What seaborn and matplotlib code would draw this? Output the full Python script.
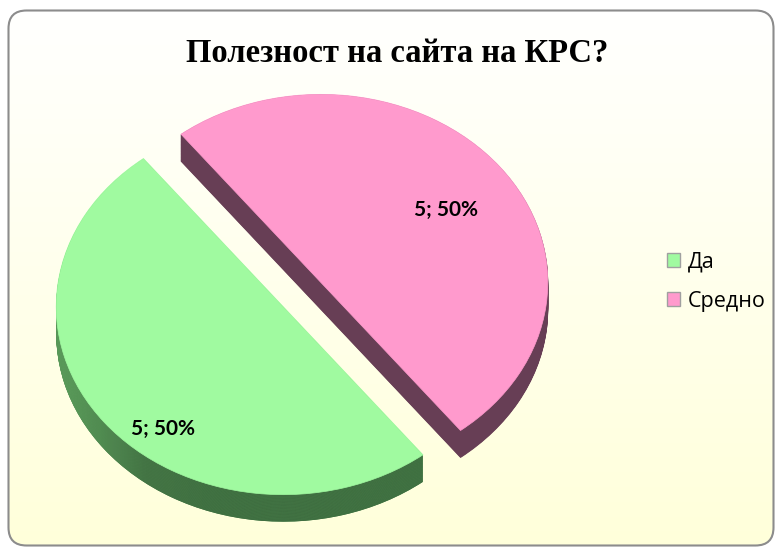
import numpy as np
import matplotlib
matplotlib.use("Agg")
import matplotlib.pyplot as plt
import seaborn as sns
from matplotlib.patches import FancyBboxPatch, Rectangle
from matplotlib.colors import LinearSegmentedColormap

# ---- data ----
categories = ["Да", "Средно"]
values = [5, 5]
top_colors = ["#A0FAA0", "#FF9ACD"]
side_colors = ["#4E8C4E", "#673E55"]
title = "Полезност на сайта на КРС?"

sns.set_theme(style="white")
plt.rcParams['font.family'] = ['Open Sans', 'DejaVu Sans']

W, H = 775, 547
fig = plt.figure(figsize=(W / 100, H / 100), dpi=100)
fig.patch.set_facecolor("white")

# ---- background with rounded frame ----
bg = fig.add_axes([0, 0, 1, 1])
bg.set_axis_off()
bg.set_xlim(0, W)
bg.set_ylim(H, 0)
frame = FancyBboxPatch((8.5, 10.5), 765, 535, boxstyle="round,pad=0,rounding_size=18",
                       facecolor="none", edgecolor="#8C8C8C", linewidth=1.5, zorder=3)
bg.add_patch(frame)
grad = np.linspace(0, 1, 256)[:, None]
cmap = LinearSegmentedColormap.from_list("bg", ["#FFFFFF", "#FFFFDA"])
im = bg.imshow(grad, extent=(0, W, H, 0), cmap=cmap, aspect="auto", zorder=1)
im.set_clip_path(frame)

# ---- 3D-looking pie ----
ax = fig.add_axes([0, 0, 1, 1])
ax.patch.set_alpha(0)
cx, cy, a, b = 302, 294.5, 227, 188
depth = 27 / b
start = 128
explode = [0.105, 0.105]
xlim = (-cx / a, (W - cx) / a)
ylim = ((cy - H) / b, cy / b)

# horizontal shading for the green outer wall
gcmap = LinearSegmentedColormap.from_list("gside", ["#7CBC7C", "#5E9E5E", "#426F43", "#3D6A3F"])
xs = np.linspace(0, 1, 400)
shade = np.clip((xs - 0.0) / 0.28, 0, 1)[None, :]

for k in np.linspace(depth, 0.003, 36):
    ax.pie(values, colors=side_colors, startangle=start, explode=explode,
           center=(0, -k), wedgeprops=dict(linewidth=0.6))
    gw, pw = ax.patches[-2:]
    pw.set_edgecolor(side_colors[1])
    gw.set_edgecolor("none")
    gim = ax.imshow(shade, extent=(xlim[0], xlim[1], ylim[0], ylim[1]), cmap=gcmap,
                    aspect="auto", zorder=gw.get_zorder())
    gim.set_clip_path(gw)

total = sum(values)
def fmt(p):
    return f"{int(round(p * total / 100))}; {p:.0f}%"

wedges, texts, autotexts = ax.pie(values, colors=top_colors, startangle=start,
                                  explode=explode, autopct=fmt, pctdistance=0.7,
                                  wedgeprops=dict(linewidth=0.5),
                                  textprops=dict(fontsize=15, fontweight="bold",
                                                 color="black", family=["Lato", "DejaVu Sans"]))
for w, c in zip(wedges, top_colors):
    w.set_edgecolor(c)
    w.set_zorder(5)
for t in autotexts:
    t.set_zorder(6)
# labels sit slightly lower on the tilted 3D faces
x0, y0 = autotexts[0].get_position()
autotexts[0].set_position((x0 + 0.02, y0 - 0.22))
x1, y1 = autotexts[1].get_position()
autotexts[1].set_position((x1, y1 - 0.045))

ax.set_aspect("auto")
ax.set_xlim(*xlim)
ax.set_ylim(*ylim)
ax.set_axis_off()

# ---- title ----
fig.text(397.5 / W, 1 - 53 / H, title, ha="center", va="center", color="black",
         fontsize=23.5, fontweight="bold", family=["Liberation Serif", "DejaVu Serif"])

# ---- legend ----
handles = [Rectangle((0, 0), 1, 1, facecolor=c, edgecolor="#A0A0A0", linewidth=1)
           for c in top_colors]
leg = fig.legend(handles, categories, loc="center left",
                 bbox_to_anchor=(667 / W, 1 - 281.5 / H), frameon=False,
                 fontsize=15.5, handlelength=0.62, handleheight=0.62, handletextpad=0.35,
                 labelspacing=0.85, borderpad=0, borderaxespad=0)
for t in leg.get_texts():
    t.set_color("black")

fig.savefig("out.png", dpi=100)
